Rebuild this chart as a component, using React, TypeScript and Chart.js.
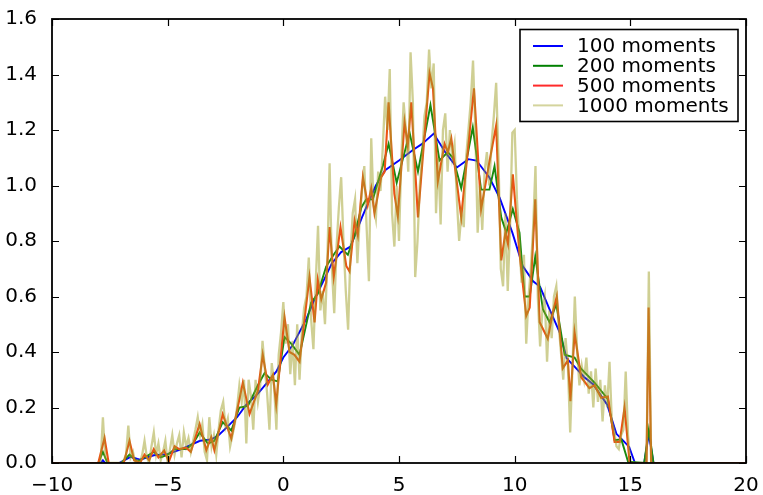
import React, { useEffect, useRef } from "react";
import { Chart, registerables } from "chart.js";
Chart.register(...registerables);

const xTickValues = [-10, -5, 0, 5, 10, 15, 20];
const yTickValues = [0, 0.2, 0.4, 0.6, 0.8, 1.0, 1.2, 1.4, 1.6];
const seriesLabels = ["100 moments", "200 moments", "500 moments", "1000 moments"];
const legendColors = ["#0000ff", "#008000", "#ff2a2a", "rgba(170,170,60,0.5)"];
const lineColors = ["#0000ff", "#1a8a10", "#ec5214", "rgba(160,160,40,0.5)"];

// 100 moments
const m100X = [-10, -8, -7.9, -7.8, -7.7, -7.1, -6.6, -6.2, -5.6, -5.0, -4.4, -4.0, -3.6, -3.1, -2.8, -2.5, -2.0, -1.6, -1.1, -0.7, -0.3, 0.0, 0.4, 1.0, 1.4, 1.7, 2.1, 2.5, 2.9, 3.4, 3.7, 4.0, 4.4, 5.0, 5.6, 6.0, 6.5, 7.0, 7.5, 8.0, 8.35, 8.9, 9.35, 9.9, 10.35, 10.8, 11.1, 11.5, 11.95, 12.25, 12.65, 13.0, 13.4, 14.0, 14.4, 14.7, 14.95, 15.2, 15.6, 15.8, 16.0, 20];
const m100Y = [0, 0, 0, 0.01, 0, 0, 0.022, 0.012, 0.028, 0.032, 0.05, 0.065, 0.08, 0.085, 0.1, 0.124, 0.165, 0.21, 0.25, 0.29, 0.33, 0.38, 0.424, 0.52, 0.6, 0.65, 0.72, 0.76, 0.78, 0.885, 0.944, 1.0, 1.055, 1.09, 1.128, 1.15, 1.187, 1.12, 1.065, 1.095, 1.09, 1.03, 0.956, 0.83, 0.71, 0.655, 0.635, 0.555, 0.47, 0.377, 0.342, 0.31, 0.283, 0.21, 0.105, 0.08, 0.058, 0, 0, 0.105, 0, 0];

// 200 moments
const m200X = [-10, -8.0, -7.8, -7.6, -7.0, -6.65, -6.3, -6.0, -5.6, -5.3, -5.0, -4.7, -4.2, -3.9, -3.62, -3.26, -2.98, -2.62, -2.25, -1.9, -1.53, -1.1, -0.81, -0.52, -0.24, 0.05, 0.34, 0.7, 1.2, 1.49, 1.85, 2.21, 2.43, 2.79, 3.08, 3.37, 3.58, 3.87, 4.15, 4.3, 4.55, 4.9, 5.46, 5.82, 6.36, 6.75, 7.11, 7.33, 7.69, 8.19, 8.55, 8.91, 9.13, 9.42, 9.64, 9.92, 10.21, 10.43, 10.65, 10.89, 11.22, 11.51, 11.8, 12.16, 12.59, 12.87, 13.45, 14.03, 14.32, 14.61, 14.9, 15.6, 15.8, 16.0, 20];
const m200Y = [0, 0, 0.04, 0, 0, 0.03, 0.005, 0.02, 0.04, 0.02, 0.03, 0.05, 0.05, 0.07, 0.11, 0.07, 0.08, 0.147, 0.117, 0.2, 0.206, 0.28, 0.324, 0.3, 0.294, 0.454, 0.43, 0.39, 0.578, 0.61, 0.708, 0.755, 0.78, 0.75, 0.82, 0.92, 0.95, 0.95, 1.03, 1.07, 1.15, 1.01, 1.19, 1.05, 1.29, 1.09, 1.12, 1.1, 0.99, 1.21, 0.985, 0.985, 1.07, 0.885, 0.83, 0.915, 0.83, 0.6, 0.6, 0.744, 0.554, 0.507, 0.572, 0.39, 0.38, 0.34, 0.29, 0.23, 0.082, 0.085, 0.005, 0, 0.12, 0, 0];

// 500 moments
const m500X = [-10, -8.0, -7.73, -7.55, -6.9, -6.65, -6.45, -6.2, -6.0, -5.8, -5.6, -5.4, -5.15, -4.95, -4.7, -4.5, -4.2, -4.0, -3.62, -3.33, -3.12, -2.98, -2.62, -2.25, -1.75, -1.46, -1.1, -0.89, -0.67, -0.45, -0.31, 0.05, 0.27, 0.48, 0.7, 1.13, 1.35, 1.49, 1.64, 1.85, 2.0, 2.18, 2.47, 2.72, 2.86, 3.08, 3.22, 3.44, 3.65, 3.8, 3.94, 4.23, 4.38, 4.55, 4.8, 4.95, 5.24, 5.38, 5.53, 5.82, 6.32, 6.47, 6.68, 6.97, 7.11, 7.26, 7.69, 8.24, 8.55, 8.91, 9.2, 9.42, 9.6, 9.71, 9.92, 10.21, 10.5, 10.65, 10.89, 11.08, 11.43, 11.65, 11.82, 12.08, 12.3, 12.41, 12.59, 12.87, 13.23, 13.45, 13.74, 14.03, 14.32, 14.54, 14.75, 14.97, 15.7, 15.79, 15.9, 20];
const m500Y = [0, 0, 0.09, 0, 0, 0.08, 0.01, 0, 0.03, 0.01, 0.05, 0.02, 0.045, 0.005, 0.06, 0.05, 0.055, 0.04, 0.14, 0.046, 0.093, 0.046, 0.176, 0.088, 0.29, 0.177, 0.26, 0.39, 0.283, 0.318, 0.21, 0.525, 0.4, 0.39, 0.365, 0.67, 0.507, 0.66, 0.59, 0.65, 0.85, 0.67, 0.85, 0.71, 0.69, 0.873, 0.82, 1.03, 0.93, 0.99, 0.9, 1.03, 1.05, 1.3, 0.97, 0.89, 1.228, 1.145, 1.3, 0.885, 1.405, 1.35, 1.015, 1.15, 1.12, 1.17, 0.885, 1.35, 0.915, 1.086, 1.216, 0.73, 0.83, 0.79, 1.04, 0.755, 0.53, 0.56, 0.95, 0.507, 0.448, 0.543, 0.6, 0.341, 0.37, 0.223, 0.47, 0.31, 0.27, 0.28, 0.235, 0.24, 0.076, 0.076, 0.2, 0, 0, 0.56, 0, 0];

// 1000 moments: sampled every 0.1 from -8.0 to 16.0
const m1000Start = -8.0;
const m1000Step = 0.1;
const m1000Y = [
  0, 0, 0.165, 0.02, 0, 0, 0, 0, 0, 0,
  0, 0.01, 0.03, 0.135, 0.02, 0.04, 0, 0.01, 0, 0.03,
  0.08, 0.02, 0, 0.06, 0.11, 0.03, 0.07, 0.01, 0.04, 0.08,
  0, 0.05, 0.1, 0.03, 0.07, 0.1, 0.02, 0.11, 0.06, 0.09,
  0.04, 0.08, 0.12, 0.165, 0.1, 0.14, 0.04, 0.01, 0.165, 0.06,
  0.1, 0.03, 0.12, 0.19, 0.22, 0.13, 0.16, 0.06, 0.1, 0.14,
  0.2, 0.28, 0.22, 0.3, 0.07, 0.3, 0.24, 0.12, 0.3, 0.22,
  0.28, 0.44, 0.34, 0.25, 0.12, 0.36, 0.28, 0.12, 0.39, 0.47,
  0.58, 0.43, 0.5, 0.32, 0.44, 0.28, 0.5, 0.3, 0.47, 0.56,
  0.6, 0.74, 0.52, 0.41, 0.65, 0.855, 0.55, 0.62, 0.5, 0.72,
  1.08, 0.7, 0.54, 0.78, 0.92, 1.03, 0.8, 0.62, 0.48, 0.75,
  0.9, 0.95, 0.72, 0.88, 0.98, 1.07, 0.85, 0.655, 1.17, 0.93,
  0.88, 1.05, 0.98, 1.14, 1.32, 1.2, 1.42, 0.9, 0.78, 1.0,
  0.8, 1.1, 1.3, 1.2, 1.05, 1.48, 1.3, 0.67, 0.8, 1.0,
  1.1, 1.25, 1.3, 1.49, 1.35, 1.44, 0.9, 1.1, 0.86, 1.2,
  1.26, 1.05, 1.2, 1.1, 1.15, 0.95, 0.8, 0.9, 0.85, 1.1,
  1.2, 1.3, 1.45, 1.2, 0.83, 1.0, 0.84, 1.05, 1.12, 1.0,
  1.15, 1.25, 1.37, 1.1, 0.7, 0.637, 0.9, 0.62, 0.85, 1.19,
  1.2, 0.95, 0.8, 0.65, 0.75, 0.43, 0.6, 0.7, 0.85, 1.07,
  0.6, 0.42, 0.55, 0.6, 0.365, 0.55, 0.45, 0.6, 0.637, 0.5,
  0.4, 0.3, 0.45, 0.35, 0.11, 0.35, 0.6, 0.4, 0.28, 0.35,
  0.3, 0.38, 0.25, 0.33, 0.2, 0.34, 0.22, 0.3, 0.15, 0.28,
  0.2, 0.365, 0.15, 0.12, 0.06, 0.05, 0.1, 0.12, 0.33, 0.1,
  0, 0, 0, 0, 0, 0, 0, 0, 0.69, 0,
  0,
];

const FONT = "'DejaVu Sans', sans-serif";

const toPoints = (xs: number[], ys: number[]) => xs.map((x, i) => ({ x, y: ys[i] }));

const framePlugin = {
  id: "mplFrame",
  afterDatasetsDraw(chart: any) {
    const { ctx, chartArea: a, scales } = chart;
    ctx.save();
    ctx.strokeStyle = "#000";
    ctx.lineWidth = 1.2;
    const L = 7;
    ctx.beginPath();
    for (const v of xTickValues) {
      const px = Math.round(scales.x.getPixelForValue(v)) + 0.5;
      ctx.moveTo(px, a.bottom);
      ctx.lineTo(px, a.bottom - L);
      ctx.moveTo(px, a.top);
      ctx.lineTo(px, a.top + L);
    }
    for (const v of yTickValues) {
      const py = Math.round(scales.y.getPixelForValue(v)) + 0.5;
      ctx.moveTo(a.left, py);
      ctx.lineTo(a.left + L, py);
      ctx.moveTo(a.right, py);
      ctx.lineTo(a.right - L, py);
    }
    ctx.stroke();
    ctx.lineWidth = 1.8;
    ctx.strokeRect(a.left, a.top, a.right - a.left, a.bottom - a.top);
    ctx.restore();
  },
  afterDraw(chart: any) {
    const { ctx, chartArea: a } = chart;
    const boxRight = a.right - 8;
    const boxLeft = boxRight - 218;
    const boxTop = a.top + 10.5;
    const boxH = 92;
    ctx.save();
    ctx.fillStyle = "#fff";
    ctx.fillRect(boxLeft, boxTop, boxRight - boxLeft, boxH);
    ctx.strokeStyle = "#000";
    ctx.lineWidth = 1.6;
    ctx.strokeRect(boxLeft, boxTop, boxRight - boxLeft, boxH);
    ctx.font = `20px ${FONT}`;
    ctx.textBaseline = "middle";
    ctx.textAlign = "left";
    chart.data.datasets.forEach((ds: any, i: number) => {
      const y = boxTop + 16.5 + i * 19.8;
      ctx.strokeStyle = legendColors[i];
      ctx.lineWidth = 2;
      ctx.beginPath();
      ctx.moveTo(boxLeft + 13, y);
      ctx.lineTo(boxLeft + 43, y);
      ctx.stroke();
      ctx.fillStyle = "#000";
      ctx.fillText(ds.label, boxLeft + 57, y + 1);
    });
    ctx.restore();
  },
};

export default function App() {
  const ref = useRef<HTMLCanvasElement | null>(null);
  useEffect(() => {
    document.body.style.margin = "0";
    const canvas = ref.current;
    if (!canvas) return;
    const m1000X = m1000Y.map((_, i) => +(m1000Start + i * m1000Step).toFixed(2));
    const chart = new Chart(canvas, {
      type: "line",
      data: {
        datasets: [
          { label: seriesLabels[0], data: toPoints(m100X, m100Y), borderColor: lineColors[0], order: 3, borderWidth: 1.9 },
          { label: seriesLabels[1], data: toPoints(m200X, m200Y), borderColor: lineColors[1], order: 2, borderWidth: 1.9 },
          { label: seriesLabels[2], data: toPoints(m500X, m500Y), borderColor: lineColors[2], order: 1, borderWidth: 2.1 },
          { label: seriesLabels[3], data: toPoints(m1000X, m1000Y), borderColor: lineColors[3], order: 0, borderWidth: 2.3 },
        ].map((d) => ({ ...d, pointRadius: 0, tension: 0, fill: false, clip: 0 })),
      },
      options: {
        responsive: false,
        animation: false,
        events: [],
        layout: { padding: { top: 12, right: 17, left: 0, bottom: 0 } },
        plugins: { legend: { display: false }, tooltip: { enabled: false } },
        scales: {
          x: {
            type: "linear",
            min: -10,
            max: 20,
            afterBuildTicks: (s: any) => { s.ticks = xTickValues.map((v) => ({ value: v })); },
            afterFit: (s: any) => { s.height = 32; },
            grid: { display: false },
            border: { display: false },
            ticks: {
              color: "#000",
              padding: 3,
              font: { family: FONT, size: 20 },
              maxRotation: 0,
              callback: (v: any) => String(v).replace("-", "\u2212"),
            },
          },
          y: {
            type: "linear",
            min: 0,
            max: 1.6,
            afterBuildTicks: (s: any) => { s.ticks = yTickValues.map((v) => ({ value: v })); },
            afterFit: (s: any) => { s.width = 52; },
            grid: { display: false },
            border: { display: false },
            ticks: {
              color: "#000",
              padding: 7,
              font: { family: FONT, size: 20 },
              callback: (v: any) => Number(v).toFixed(1),
            },
          },
        },
      },
      plugins: [framePlugin],
    } as any);
    return () => chart.destroy();
  }, []);
  return (
    <div style={{ width: 763, height: 495 }}>
      <canvas ref={ref} width={763} height={495} style={{ display: "block" }} />
    </div>
  );
}
